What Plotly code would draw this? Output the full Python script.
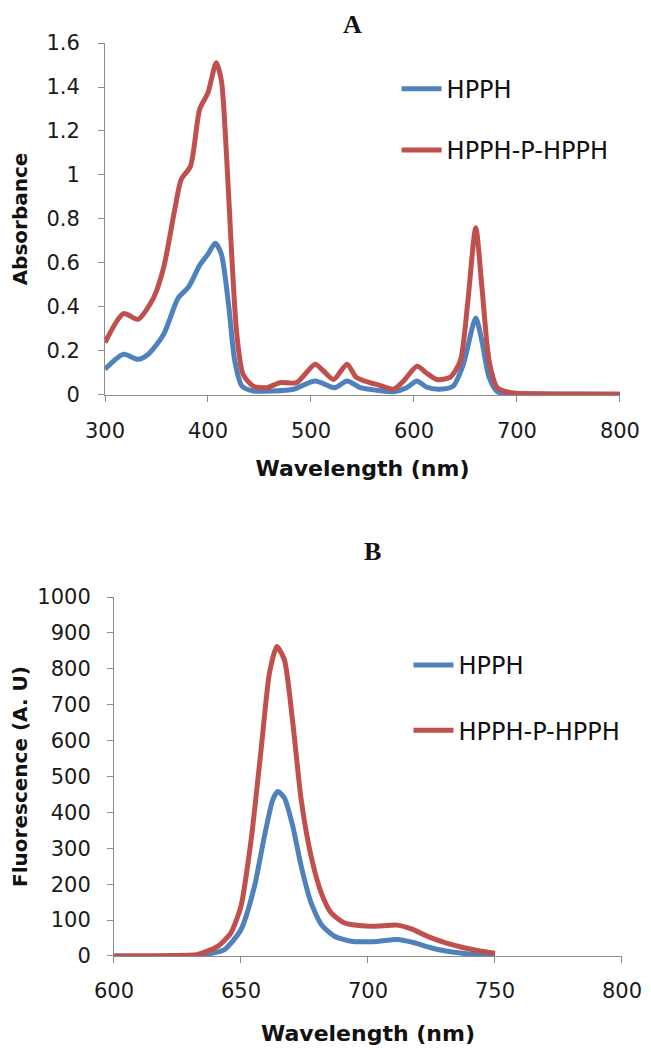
import plotly.graph_objects as go

# ---- Panel A: absorbance ----
abs_hpph_nm = [300, 318, 332, 342, 357, 371, 381, 392, 400, 407, 413, 420, 426, 433, 444, 463, 483, 504, 523, 535,
               548, 563, 580, 593, 603, 612, 625, 638, 648, 660, 666, 673, 681, 694, 720, 760, 800]
abs_hpph = [0.117, 0.185, 0.162, 0.185, 0.276, 0.44, 0.49, 0.59, 0.64, 0.69, 0.64, 0.41, 0.155, 0.04, 0.018, 0.018,
            0.026, 0.064, 0.033, 0.064, 0.033, 0.022, 0.015, 0.033, 0.064, 0.036, 0.026, 0.04, 0.14, 0.35, 0.245,
            0.08, 0.015, 0.006, 0.004, 0.003, 0.003]

abs_dimer_nm = [300, 318, 332, 347, 357, 368, 374, 383, 392, 400, 408, 413, 418, 423, 428, 434, 444, 457, 470, 486,
                504, 512, 522, 535, 544, 557, 566, 580, 590, 603, 612, 622, 635, 645, 652, 660, 666, 673, 681, 694,
                720, 760, 800]
abs_dimer = [0.238, 0.37, 0.344, 0.44, 0.58, 0.85, 0.98, 1.04, 1.30, 1.374, 1.51, 1.43, 1.09, 0.64, 0.276, 0.094,
             0.04, 0.033, 0.056, 0.056, 0.14, 0.11, 0.07, 0.14, 0.08, 0.056, 0.045, 0.026, 0.064, 0.13, 0.10, 0.07,
             0.08, 0.155, 0.41, 0.76, 0.49, 0.155, 0.033, 0.01, 0.005, 0.004, 0.003]

# ---- Panel B: fluorescence ----
fl_hpph_nm = [600, 620, 633, 643.5, 650, 655.3, 659.2, 662.5, 664.5, 667.1, 670.4, 673.7, 677.6, 681.6, 686.8,
              693.4, 702, 711.6, 718.2, 724.7, 731.3, 737.8, 744, 750]
fl_hpph = [0, 0, 1, 18, 74, 194, 333, 435, 458, 440, 361, 250, 148, 88, 55, 41, 40, 46, 37, 23, 13, 7, 3, 1]

fl_dimer_nm = [600, 620, 632.9, 640.8, 646, 650, 654, 657.9, 661.2, 664.1, 667.1, 670.4, 673.7, 677.6, 681.6, 685.5,
               690.8, 701.3, 711.6, 716.8, 724.7, 731.3, 737.8, 744, 750]
fl_dimer = [0, 1, 4, 27, 64, 139, 324, 574, 788, 862, 825, 649, 435, 278, 176, 120, 92, 83, 86, 76, 51, 35, 23, 14,
            8]

names = ["HPPH", "HPPH-P-HPPH"]
colors = ["#4F81BD", "#C0504D"]

x_ticks_a = [300, 400, 500, 600, 700, 800]
y_ticks_a = [0, 0.2, 0.4, 0.6, 0.8, 1.0, 1.2, 1.4, 1.6]
y_ticklabels_a = ["0", "0.2", "0.4", "0.6", "0.8", "1", "1.2", "1.4", "1.6"]
x_ticks_b = [600, 650, 700, 750, 800]
y_ticks_b = list(range(0, 1001, 100))

FONT = "DejaVu Sans"
fig = go.Figure()

for i, (xs, ys) in enumerate([(abs_hpph_nm, abs_hpph), (abs_dimer_nm, abs_dimer)]):
    fig.add_trace(go.Scatter(x=xs, y=ys, mode="lines", name=names[i], xaxis="x", yaxis="y",
                             line=dict(color=colors[i], width=5, shape="spline", smoothing=0.7),
                             legend="legend", legendgroup="a%d" % i))
for i, (xs, ys) in enumerate([(fl_hpph_nm, fl_hpph), (fl_dimer_nm, fl_dimer)]):
    fig.add_trace(go.Scatter(x=xs, y=ys, mode="lines", name=names[i], xaxis="x2", yaxis="y2",
                             line=dict(color=colors[i], width=5, shape="spline", smoothing=0.6),
                             legend="legend2", legendgroup="b%d" % i))

axis_common = dict(showgrid=False, zeroline=False, showline=True, linecolor="#8C8C8C", linewidth=1,
                   ticks="outside", ticklen=6, tickcolor="#8C8C8C", automargin=False,
                   tickfont=dict(family=FONT, size=21, color="#1a1a1a"))
xtitle_font = dict(family=FONT, size=22, color="#111111")
ytitle_font = dict(family=FONT, size=20, color="#111111")
legend_font = dict(family=FONT, size=24, color="#111111")

fig.update_layout(
    width=643, height=1042,
    margin=dict(l=97, r=29, t=35, b=94),
    paper_bgcolor="white", plot_bgcolor="white",
    showlegend=True,
    xaxis=dict(domain=[0, 0.996], anchor="y", range=[300, 800], tickvals=x_ticks_a, ticklabelstandoff=11,
               title=dict(text="<b>Wavelength (nm)</b>", font=xtitle_font, standoff=18), **axis_common),
    yaxis=dict(domain=[0.6145, 1.0], anchor="x", range=[0, 1.6], tickvals=y_ticks_a, ticktext=y_ticklabels_a,
               ticklabelstandoff=14,
               title=dict(text="<b>Absorbance</b>", font=ytitle_font, standoff=21), **axis_common),
    xaxis2=dict(domain=[0.0174, 1.0], anchor="y2", range=[600, 800], tickvals=x_ticks_b, ticklabelstandoff=10,
                title=dict(text="<b>Wavelength (nm)</b>", font=xtitle_font, standoff=23), **axis_common),
    yaxis2=dict(domain=[0, 0.3932], anchor="x2", range=[0, 1000], tickvals=y_ticks_b, ticklabelstandoff=12,
                title=dict(text="<b>Fluorescence (A. U)</b>", font=ytitle_font, standoff=11), **axis_common),
    legend=dict(x=0.564, y=0.974, xanchor="left", yanchor="top", bgcolor="rgba(0,0,0,0)",
                font=legend_font, tracegroupgap=27, itemwidth=40),
    legend2=dict(x=0.587, y=0.343, xanchor="left", yanchor="top", bgcolor="rgba(0,0,0,0)",
                 font=legend_font, tracegroupgap=31, itemwidth=40),
    annotations=[
        dict(text="<b>A</b>", x=0.478, y=1.0383, xref="paper", yref="paper", yanchor="top",
             showarrow=False, font=dict(family="Liberation Serif", size=26, color="#111111")),
        dict(text="<b>B</b>", x=0.518, y=0.4425, xref="paper", yref="paper", yanchor="middle",
             showarrow=False, font=dict(family="Liberation Serif", size=26, color="#111111")),
    ],
)

fig.write_html("out.html")
